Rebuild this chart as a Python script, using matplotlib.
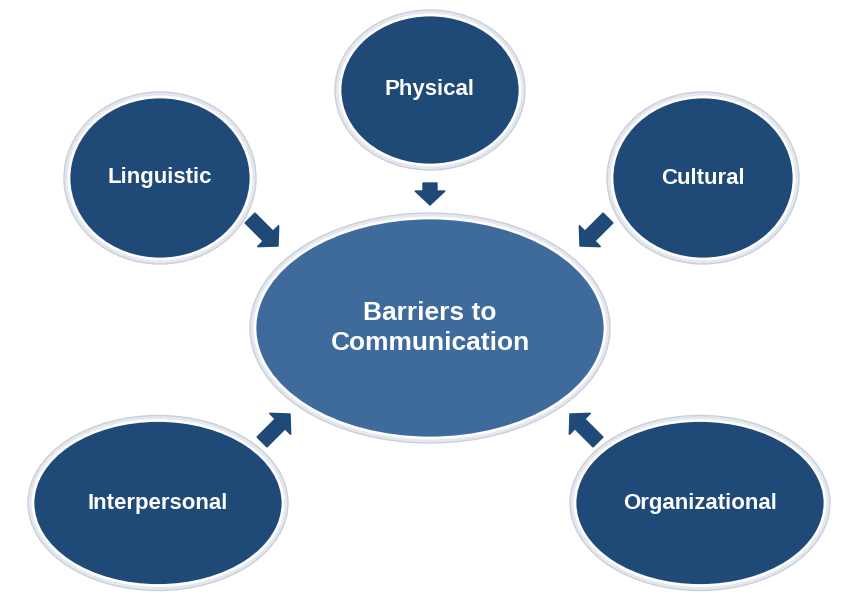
import matplotlib
matplotlib.use("Agg")
import matplotlib.pyplot as plt
from matplotlib.patches import Ellipse, FancyArrow

center_label = "Barriers to\nCommunication"
barriers = ["Physical", "Linguistic", "Cultural", "Interpersonal", "Organizational"]

# layout in pixel coords (x, y, width, height)
node_pos = [(430, 90, 180, 150), (160, 178, 182, 162), (703, 178, 182, 162),
            (158, 503, 250, 165), (700, 503, 250, 165)]
# arrow tail (x, y) and direction (dx, dy)
arrow_pos = [(430, 183, 0, 22), (250, 218, 28, 28), (608, 218, -28, 28),
             (262, 442, 28, -28), (598, 442, -28, -28)]

dark = "#1f4a78"
light = "#3e6b9c"

fig = plt.figure(figsize=(8.6, 6.07), dpi=100)
ax = fig.add_axes([0, 0, 1, 1])
ax.set_xlim(0, 860)
ax.set_ylim(607, 0)
ax.axis("off")

def node(x, y, w, h, color, text, size):
    ax.add_patch(Ellipse((x, y), w + 10, h + 10, facecolor="#e4e8ee", edgecolor="#c9d0da", lw=1, zorder=1))
    ax.add_patch(Ellipse((x, y), w, h, facecolor=color, edgecolor="white", lw=2, zorder=2))
    ax.text(x, y, text, ha="center", va="center", color="white", fontsize=size,
            fontweight="bold", family="Liberation Sans", zorder=3, linespacing=1.3)

for (x, y, dx, dy) in arrow_pos:
    ax.add_patch(FancyArrow(x, y, dx, dy, width=14, head_width=30, head_length=14,
                            length_includes_head=True, color=dark, zorder=2))

node(430, 328, 350, 220, light, center_label, 19)
for lab, (x, y, w, h) in zip(barriers, node_pos):
    node(x, y, w, h, dark, lab, 16)

fig.savefig("out.png", dpi=100)
